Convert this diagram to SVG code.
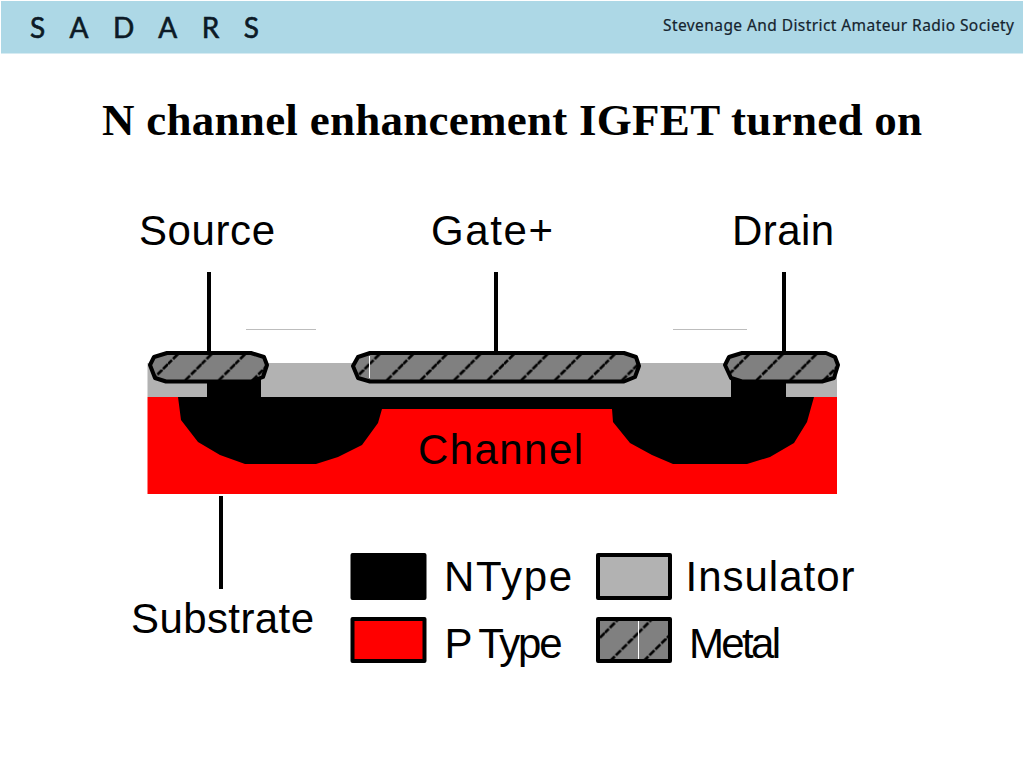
<svg xmlns="http://www.w3.org/2000/svg" width="1024" height="768" viewBox="0 0 1024 768">
<style>
.l{font-family:"Liberation Sans",Arial,sans-serif;font-size:42px;fill:#000}
.t{font-family:"Liberation Serif","Times New Roman",serif;font-size:45px;font-weight:bold;fill:#000}
.m{fill:url(#hatch);stroke:#000;stroke-width:4;stroke-linejoin:round}
.lead{stroke:#000;stroke-width:4;fill:none}
.faint{stroke:#bdbdbd;stroke-width:1;fill:none}
.sw{stroke:#000;stroke-width:4;stroke-linejoin:round}
</style>
<defs>
<pattern id="hatch" patternUnits="userSpaceOnUse" width="33.6" height="33.6">
<rect width="33.6" height="33.6" fill="#808080"/>
<path d="M28 0L0 28M33.600 28L28 33.600" stroke="#000" stroke-width="2.600" stroke-dasharray="7 1.500" fill="none"/>
</pattern>
</defs>
<rect width="1024" height="768" fill="#fff"/>
<g id="header">
<rect x="1" y="1" width="1022" height="52.500" fill="#add8e6"/>
<text x="30" y="38" font-family="Lato,sans-serif" font-size="28" fill="#0c1a26" stroke="#0c1a26" stroke-width="0.6" textLength="229" lengthAdjust="spacing">SADARS</text>
<text x="663" y="31" font-family="'Noto Sans',sans-serif" font-size="15.500" fill="#15242f" stroke="#15242f" stroke-width="0.2" textLength="351" lengthAdjust="spacing">Stevenage And District Amateur Radio Society</text>
</g>
<text id="title" class="t" x="102" y="135" textLength="820">N channel enhancement IGFET turned on</text>
<g id="substrate-body">
<rect x="147.500" y="363" width="689.500" height="34" fill="#b2b2b2"/>
<rect x="147.500" y="397" width="689.500" height="97" fill="#f00"/>
</g>
<g id="n-wells">
<path fill="#000" d="M178 397L181 420L198 442L220 455L245 464L316 464L338 457L362 445L378 423L382 409L612 409L613 422L630 443L652 455L673 464L747 464L770 457L794 443L807 422L814 397Z"/>
<rect x="207" y="378" width="54" height="20" fill="#000"/>
<rect x="731" y="378" width="55" height="20" fill="#000"/>
</g>
<g id="connectors">
<path class="lead" d="M209 272V352M496 272V352M784 272V352M221 496V589"/>
<path class="faint" d="M246 329.500H316M673 329.500H747"/>
</g>
<g id="source-contact"><path class="m" d="M167 353H251L264 357L267 365L263 377L251 381.500H166L155 378L150 365L154 357Z"/></g>
<g id="gate-contact"><path class="m" d="M370 353H624L636 357L639 366L635 377L624 381.500H370L358 378L353 366L358 357Z"/><path d="M369.500 356V378" stroke="#fff" stroke-width="1"/></g>
<g id="drain-contact"><path class="m" d="M742 353H826L835 357L838 365L834 378L822 381.500H742L731 378L725 365L729 357Z"/></g>
<g id="labels">
<text class="l" x="139" y="245" textLength="136">Source</text>
<text class="l" x="431" y="245" textLength="122">Gate+</text>
<text class="l" x="732" y="245" textLength="102">Drain</text>
<text class="l" x="418" y="464" textLength="165">Channel</text>
<text class="l" x="131" y="633" textLength="183">Substrate</text>
</g>
<g id="legend">
<rect class="sw" x="352.500" y="555" width="72" height="43" fill="#000"/>
<rect class="sw" x="352.500" y="619" width="72" height="42" fill="#f00"/>
<rect class="sw" x="598" y="555" width="72" height="43" fill="#b2b2b2"/>
<rect class="sw" x="598" y="619" width="72" height="42" style="fill:url(#hatch)"/>
<path d="M638.500 621V659" stroke="#fff" stroke-width="1"/>
<text class="l" x="444" y="591" textLength="128">NType</text>
<text class="l" x="444.500" y="658" textLength="118">P Type</text>
<text class="l" x="685.500" y="591" textLength="169">Insulator</text>
<text class="l" x="689" y="658" textLength="92">Metal</text>
</g>
</svg>
